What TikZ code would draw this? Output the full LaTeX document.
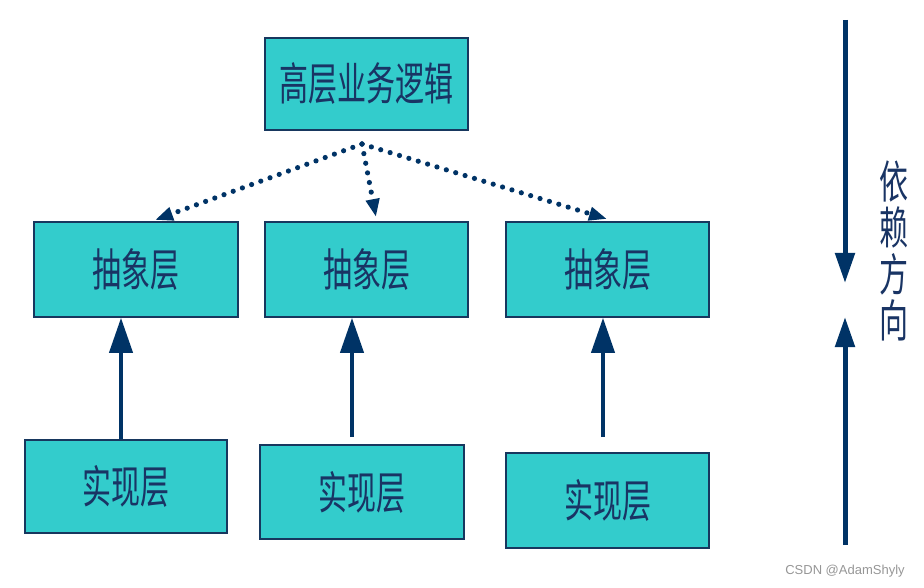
\documentclass[tikz,border=0pt]{standalone}
\usepackage{fontspec}
\usetikzlibrary{arrows.meta,calc}
\newfontfamily\cjk{Noto Sans CJK SC}
\setmainfont{Liberation Sans}
\definecolor{boxfill}{RGB}{51,204,204}
\definecolor{navy}{RGB}{0,51,102}
\definecolor{boxline}{RGB}{23,55,94}
\definecolor{txt}{RGB}{25,52,100}
\definecolor{wm}{RGB}{150,150,150}
\newcommand{\tallt}[1]{\scalebox{1}[1.55]{#1}}
\tikzset{
  layerbox/.style={draw=boxline, line width=1.6pt, fill=boxfill, inner sep=0pt,
    font=\cjk\fontsize{29}{34}\selectfont, text=txt},
  solidarrow/.style={draw=navy, line width=4pt, -{Triangle[length=35pt,width=23pt]}},
  dotarrow/.style={draw=navy, line width=5.2pt, line cap=round, dash pattern=on 0pt off 9.8pt,
    -{Triangle[length=18pt,width=13pt]}},
  dirarrow/.style={draw=navy, line width=5pt, -{Triangle[length=30pt,width=19pt]}},
}
\begin{document}
\begin{tikzpicture}[x=1pt,y=-1pt]
\useasboundingbox (0,0) rectangle (924,588);
% boxes
\node[layerbox, minimum width=203pt, minimum height=92pt] (top) at (366.5,84) {\tallt{高层业务逻辑}};
\node[layerbox, minimum width=204pt, minimum height=95pt] (a1) at (136,269.5) {\tallt{抽象层}};
\node[layerbox, minimum width=203pt, minimum height=95pt] (a2) at (366.5,269.5) {\tallt{抽象层}};
\node[layerbox, minimum width=203pt, minimum height=95pt] (a3) at (607.5,269.5) {\tallt{抽象层}};
\node[layerbox, minimum width=202pt, minimum height=93pt] (i1) at (126,486.5) {\tallt{实现层}};
\node[layerbox, minimum width=204pt, minimum height=94pt] (i2) at (362,492) {\tallt{实现层}};
\node[layerbox, minimum width=203pt, minimum height=95pt] (i3) at (607.5,500.5) {\tallt{实现层}};
% dotted dependency arrows
\coordinate (d0) at (362,144);
\coordinate (e1) at (155,220);
\coordinate (e2) at (376,217);
\coordinate (e3) at (607,219);
\draw[dotarrow] (d0) -- (e1);
\draw[dotarrow] (d0) -- (e2);
\draw[dotarrow] (d0) -- (e3);
% solid implementation arrows
\draw[solidarrow] ([xshift=-5pt]i1.north) -- ([xshift=-15pt]a1.south);
\coordinate (t2) at (352,437);
\coordinate (t3) at (603,437);
\draw[solidarrow] (t2) -- (t2 |- a2.south);
\draw[solidarrow] (t3) -- (t3 |- a3.south);
% direction arrows on the right
\coordinate (r1) at (845,20);
\coordinate (r2) at (845,283);
\coordinate (r3) at (845,545);
\coordinate (r4) at (845,317);
\draw[dirarrow] (r1) -- (r2);
\draw[dirarrow] (r3) -- (r4);
\node[font=\cjk\fontsize{29}{46.5}\selectfont, text=txt, align=center, inner sep=0pt] (dir) at (894,251)
  {\tallt{依}\\\tallt{赖}\\\tallt{方}\\\tallt{向}};
% watermark
\node[font=\fontsize{13}{15}\selectfont, text=wm, inner sep=0pt] (wmk) at (845,571) {CSDN @AdamShyly};
\end{tikzpicture}
\end{document}
